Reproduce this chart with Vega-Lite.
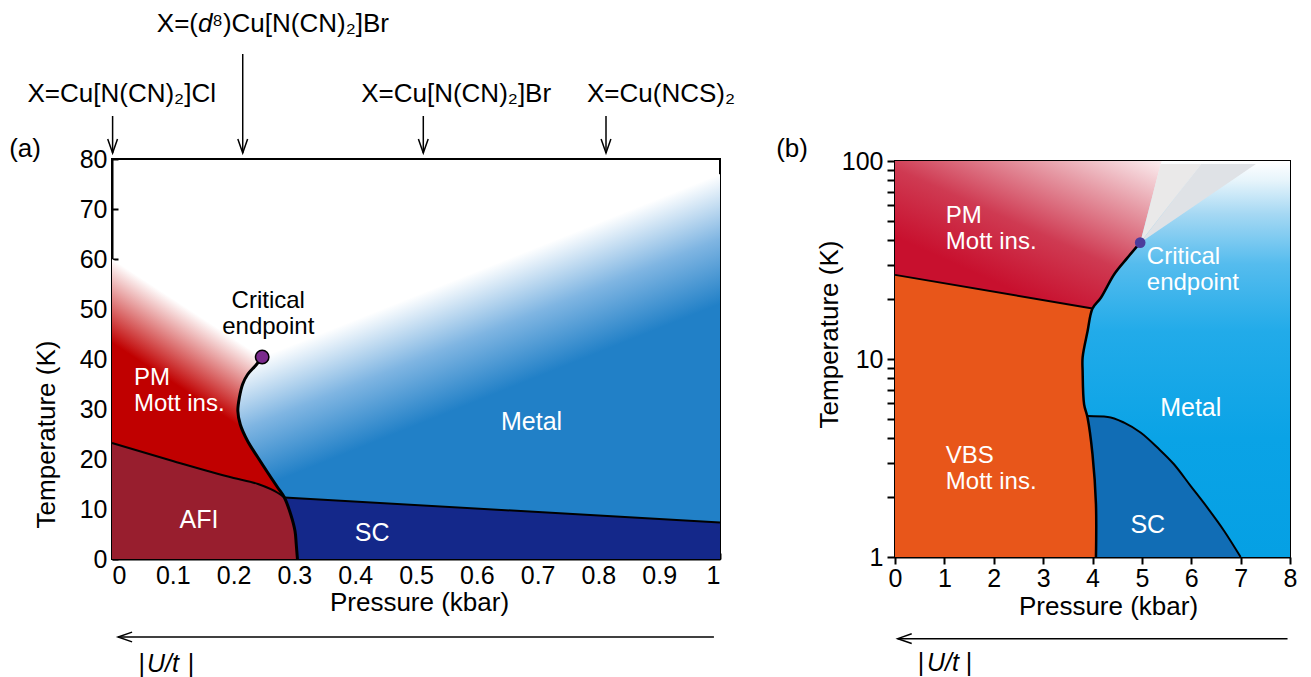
{
  "$schema": "https://vega.github.io/schema/vega-lite/v6.json",
  "padding": {"left": 8, "top": 10, "right": 5, "bottom": 2},
  "config": {
    "font": "Liberation Sans",
    "view": {"stroke": "black", "strokeWidth": 2},
    "axis": {
      "grid": false, "domainColor": "black", "domainWidth": 2,
      "tickColor": "black", "tickWidth": 2,
      "labelColor": "black", "titleColor": "black",
      "labelFontSize": 25, "titleFontSize": 26, "titleFontWeight": "normal",
      "labelOverlap": false
    }
  },
  "datasets": {
    "pm_a": [
      {"P": 0.305, "T": 0}, {"P": 0.303, "T": 3}, {"P": 0.301, "T": 5.6}, {"P": 0.294, "T": 8.9},
      {"P": 0.2835, "T": 12.3}, {"P": 0.2725, "T": 14.3}, {"P": 0.256, "T": 17.3}, {"P": 0.240, "T": 20.3},
      {"P": 0.223, "T": 23.6}, {"P": 0.211, "T": 26.9}, {"P": 0.207, "T": 29.6}, {"P": 0.2095, "T": 32.3},
      {"P": 0.215, "T": 35}, {"P": 0.223, "T": 36.9}, {"P": 0.237, "T": 38.8}, {"P": 0.247, "T": 40.4},
      {"P": 0, "T": 60}
    ],
    "metal_a": [
      {"P": 0.305, "T": 0}, {"P": 0.303, "T": 3}, {"P": 0.301, "T": 5.6}, {"P": 0.294, "T": 8.9},
      {"P": 0.2835, "T": 12.3}, {"P": 0.2725, "T": 14.3}, {"P": 0.256, "T": 17.3}, {"P": 0.240, "T": 20.3},
      {"P": 0.223, "T": 23.6}, {"P": 0.211, "T": 26.9}, {"P": 0.207, "T": 29.6}, {"P": 0.2095, "T": 32.3},
      {"P": 0.215, "T": 35}, {"P": 0.223, "T": 36.9}, {"P": 0.237, "T": 38.8}, {"P": 0.247, "T": 40.4},
      {"P": 1, "T": 77}
    ],
    "first_order_a": [
      {"P": 0.305, "T": 0}, {"P": 0.303, "T": 3}, {"P": 0.301, "T": 5.6}, {"P": 0.294, "T": 8.9},
      {"P": 0.2835, "T": 12.3}, {"P": 0.2725, "T": 14.3}, {"P": 0.256, "T": 17.3}, {"P": 0.240, "T": 20.3},
      {"P": 0.223, "T": 23.6}, {"P": 0.211, "T": 26.9}, {"P": 0.207, "T": 29.6}, {"P": 0.2095, "T": 32.3},
      {"P": 0.215, "T": 35}, {"P": 0.223, "T": 36.9}, {"P": 0.237, "T": 38.8}, {"P": 0.247, "T": 40.4}
    ],
    "afi_a": [
      {"P": 0.305, "T": 0}, {"P": 0.303, "T": 3}, {"P": 0.301, "T": 5.6}, {"P": 0.294, "T": 8.9},
      {"P": 0.2835, "T": 12.3}, {"P": 0.273, "T": 13.2}, {"P": 0.24, "T": 15},
      {"P": 0.2, "T": 16.2}, {"P": 0.1, "T": 19.6}, {"P": 0, "T": 23.2}
    ],
    "afi_line_a": [
      {"P": 0, "T": 23.2}, {"P": 0.1, "T": 19.6}, {"P": 0.2, "T": 16.2},
      {"P": 0.24, "T": 15}, {"P": 0.273, "T": 13.2}, {"P": 0.2835, "T": 12.3}
    ],
    "sc_a": [{"P": 0.2835, "T": 12.3}, {"P": 1, "T": 7.3}],
    "endpoint_a": [{"P": 0.247, "T": 40.4}],
    "arrows_a": [
      {"P": 0.001, "T": 88.6, "T2": 81.2},
      {"P": 0.215, "T": 101, "T2": 81.2},
      {"P": 0.512, "T": 88.6, "T2": 81.2},
      {"P": 0.8125, "T": 88.6, "T2": 81.2}
    ],
    "compounds_a": [
      {"P": 0.016, "T": 93, "label": "X=Cu[N(CN)₂]Cl"},
      {"P": 0.566, "T": 93, "label": "X=Cu[N(CN)₂]Br"},
      {"P": 0.903, "T": 93, "label": "X=Cu(NCS)₂"},
      {"P": -0.143, "T": 82, "label": "(a)"}
    ],
    "metal_b": [{"P": 0, "T": 1}],
    "pm_b": [
      {"P": 4.0, "T": 18.0}, {"P": 4.17, "T": 20.4}, {"P": 4.44, "T": 26.8},
      {"P": 4.71, "T": 32.5}, {"P": 4.966, "T": 38.7}, {"P": 5.40, "T": 100}
    ],
    "wedge_b": [
      {"P": 4.966, "P2": 4.966, "T": 38.7, "part": "warm"},
      {"P": 5.38, "P2": 6.2, "T": 96.6, "part": "warm"},
      {"P": 4.966, "P2": 4.966, "T": 38.7, "part": "cool"},
      {"P": 6.2, "P2": 7.31, "T": 96.6, "part": "cool"}
    ],
    "sc_b": [
      {"P": 3.9, "T": 5.15}, {"P": 4.31, "T": 5.1}, {"P": 4.64, "T": 4.77}, {"P": 4.98, "T": 4.24},
      {"P": 5.32, "T": 3.56}, {"P": 5.65, "T": 2.94}, {"P": 5.99, "T": 2.28}, {"P": 6.33, "T": 1.77},
      {"P": 6.67, "T": 1.35}, {"P": 7.0, "T": 1.0}
    ],
    "vbs_b": [
      {"P": 4.07, "T": 1}, {"P": 4.07, "T": 1.85}, {"P": 4.0, "T": 3.3}, {"P": 3.9, "T": 5.05},
      {"P": 3.83, "T": 5.9}, {"P": 3.80, "T": 8.7}, {"P": 3.80, "T": 10.2}, {"P": 3.9, "T": 13.8},
      {"P": 4.0, "T": 18.0}, {"P": 0, "T": 26.6}
    ],
    "vbs_line_b": [{"P": 0, "T": 26.6}, {"P": 4.0, "T": 18.0}],
    "first_order_b": [
      {"P": 4.07, "T": 1}, {"P": 4.07, "T": 1.85}, {"P": 4.0, "T": 3.3}, {"P": 3.9, "T": 5.05},
      {"P": 3.83, "T": 5.9}, {"P": 3.80, "T": 8.7}, {"P": 3.80, "T": 10.2}, {"P": 3.9, "T": 13.8},
      {"P": 4.0, "T": 18.0}, {"P": 4.17, "T": 20.4}, {"P": 4.44, "T": 26.8}, {"P": 4.71, "T": 32.5},
      {"P": 4.966, "T": 38.7}
    ],
    "endpoint_b": [{"P": 4.966, "T": 38.7}]
  },
  "hconcat": [
    {
      "width": 608,
      "height": 400,
      "encoding": {
        "x": {
          "field": "P", "type": "quantitative",
          "scale": {"domain": [0, 1], "nice": false, "zero": false},
          "axis": {
            "title": "Pressure (kbar)",
            "values": [0, 0.1, 0.2, 0.3, 0.4, 0.5, 0.6, 0.7, 0.8, 0.9, 1],
            "format": "~g", "tickSize": -6, "labelPadding": 10, "labelFlush": true,
            "titleX": 307, "titleY": 51, "titleBaseline": "alphabetic", "titleAlign": "center"
          }
        },
        "y": {
          "field": "T", "type": "quantitative",
          "scale": {"domain": [0, 80], "nice": false, "zero": false},
          "axis": {
            "title": "Temperature (K)",
            "values": [0, 10, 20, 30, 40, 50, 60, 70, 80],
            "tickSize": -6, "labelPadding": 11,
            "titleX": -58, "titleY": 275, "titleBaseline": "alphabetic", "titleAlign": "center", "titleAngle": 270
          }
        }
      },
      "layer": [
        {
          "data": {"name": "pm_a"},
          "mark": {
            "type": "area", "orient": "horizontal",
            "color": {"gradient": "linear", "x1": 0, "y1": 0, "x2": -0.097, "y2": 0.24,
              "stops": [{"offset": 0, "color": "#ffffff"}, {"offset": 1, "color": "#c00000"}]}
          },
          "encoding": {"x2": {"datum": 0}}
        },
        {
          "data": {"name": "metal_a"},
          "mark": {
            "type": "area", "orient": "horizontal",
            "color": {"gradient": "linear", "x1": 0.05, "y1": 0.475, "x2": 0.185, "y2": 0.745,
              "stops": [{"offset": 0, "color": "#ffffff"}, {"offset": 0.5, "color": "#7fb5e2"}, {"offset": 1, "color": "#2180c7"}]}
          },
          "encoding": {"x2": {"datum": 1}}
        },
        {
          "data": {"name": "sc_a"},
          "mark": {"type": "area", "orient": "vertical", "color": "#14288a"},
          "encoding": {"y2": {"datum": 0}}
        },
        {
          "data": {"name": "afi_a"},
          "mark": {"type": "area", "orient": "horizontal", "color": "#981e2e"},
          "encoding": {"x2": {"datum": 0}}
        },
        {
          "data": {"name": "afi_line_a"},
          "mark": {"type": "line", "color": "black", "strokeWidth": 2, "interpolate": "monotone"},
          "encoding": {}
        },
        {
          "data": {"name": "sc_a"},
          "mark": {"type": "line", "color": "black", "strokeWidth": 2},
          "encoding": {}
        },
        {
          "data": {"name": "first_order_a"},
          "mark": {"type": "line", "color": "black", "strokeWidth": 3, "interpolate": "catmull-rom"},
          "encoding": {"order": {"field": "T", "type": "quantitative"}}
        },
        {
          "data": {"name": "endpoint_a"},
          "mark": {"type": "point", "shape": "circle", "filled": true, "fill": "#7a2a8c", "stroke": "black", "strokeWidth": 1.5, "size": 180, "opacity": 1},
          "encoding": {}
        },
        {
          "data": {"values": [
            {"P": 0.036, "T": 36.3, "label": ["PM", "Mott ins."]}
          ]},
          "mark": {"type": "text", "align": "left", "baseline": "middle", "fontSize": 24, "lineHeight": 26, "color": "white"},
          "encoding": {"text": {"field": "label"}}
        },
        {
          "data": {"values": [
            {"P": 0.143, "T": 7.8, "label": "AFI"},
            {"P": 0.428, "T": 5.2, "label": "SC"},
            {"P": 0.69, "T": 27.4, "label": "Metal"}
          ]},
          "mark": {"type": "text", "align": "center", "baseline": "middle", "fontSize": 25, "color": "white"},
          "encoding": {"text": {"field": "label"}}
        },
        {
          "data": {"values": [
            {"P": 0.257, "T": 51.7, "label": ["Critical", "endpoint"]}
          ]},
          "mark": {"type": "text", "align": "center", "baseline": "middle", "fontSize": 24, "lineHeight": 26, "color": "black"},
          "encoding": {"text": {"field": "label"}}
        },
        {
          "data": {"name": "compounds_a"},
          "mark": {"type": "text", "align": "center", "baseline": "middle", "fontSize": 26, "color": "black"},
          "encoding": {"text": {"field": "label"}}
        },
        {
          "data": {"values": [{"P": 0.1414, "T": 107, "label": "X=("}]},
          "mark": {"type": "text", "align": "right", "baseline": "middle", "fontSize": 26, "color": "black"},
          "encoding": {"text": {"field": "label"}}
        },
        {
          "data": {"values": [{"P": 0.1414, "T": 107, "label": "d"}]},
          "mark": {"type": "text", "align": "left", "baseline": "middle", "fontSize": 26, "fontStyle": "italic", "color": "black"},
          "encoding": {"text": {"field": "label"}}
        },
        {
          "data": {"values": [{"P": 0.1414, "T": 107, "label": "⁸)Cu[N(CN)₂]Br"}]},
          "mark": {"type": "text", "align": "left", "baseline": "middle", "fontSize": 26, "dx": 14, "color": "black"},
          "encoding": {"text": {"field": "label"}}
        },
        {
          "data": {"name": "arrows_a"},
          "mark": {"type": "rule", "color": "black", "strokeWidth": 1.5},
          "encoding": {"y2": {"field": "T2"}}
        },
        {
          "data": {"name": "arrows_a"},
          "mark": {"type": "point", "shape": "M-0.7,-2L0,0L0.7,-2", "size": 196, "filled": false, "stroke": "black", "strokeWidth": 1.5, "opacity": 1},
          "encoding": {"y": {"field": "T2", "type": "quantitative"}}
        },
        {
          "data": {"values": [{"P": 0.01, "P2": 0.99, "T": -15.6}]},
          "mark": {"type": "rule", "color": "black", "strokeWidth": 1.5},
          "encoding": {"x2": {"field": "P2"}}
        },
        {
          "data": {"values": [{"P": 0.01, "T": -15.6}]},
          "mark": {"type": "point", "shape": "M2,-0.7L0,0L2,0.7", "size": 196, "filled": false, "stroke": "black", "strokeWidth": 1.5, "opacity": 1},
          "encoding": {}
        },
        {
          "data": {"values": [{"P": 0.049, "T": -21, "label": "|"}, {"P": 0.130, "T": -21, "label": "|"}]},
          "mark": {"type": "text", "align": "center", "baseline": "middle", "fontSize": 25, "color": "black"},
          "encoding": {"text": {"field": "label"}}
        },
        {
          "data": {"values": [{"P": 0.0576, "T": -21, "label": "U/t"}]},
          "mark": {"type": "text", "align": "left", "baseline": "middle", "fontSize": 25, "fontStyle": "italic", "color": "black"},
          "encoding": {"text": {"field": "label"}}
        }
      ]
    },
    {
      "width": 395,
      "height": 396,
      "encoding": {
        "x": {
          "field": "P", "type": "quantitative",
          "scale": {"domain": [0, 8], "nice": false, "zero": false},
          "axis": {
            "title": "Pressure (kbar)",
            "values": [0, 1, 2, 3, 4, 5, 6, 7, 8],
            "tickSize": 7, "labelPadding": 2, "labelFlush": false,
            "titleX": 213, "titleY": 57, "titleBaseline": "alphabetic", "titleAlign": "center"
          }
        },
        "y": {
          "field": "T", "type": "quantitative",
          "scale": {"type": "log", "domain": [1, 100], "nice": false},
          "axis": {
            "title": "Temperature (K)",
            "values": [1, 2, 3, 4, 5, 6, 7, 8, 9, 10, 20, 30, 40, 50, 60, 70, 80, 90, 100],
            "format": "d",
            "labelExpr": "datum.value == 1 || datum.value == 10 || datum.value == 100 ? datum.label : ''",
            "tickSize": 8, "labelPadding": 4,
            "titleX": -58, "titleY": 173, "titleBaseline": "alphabetic", "titleAlign": "center", "titleAngle": 270
          }
        }
      },
      "layer": [
        {
          "data": {"name": "metal_b"},
          "mark": {
            "type": "rect",
            "color": {"gradient": "linear", "x1": 0, "y1": 0, "x2": 0, "y2": 1,
              "stops": [
                {"offset": 0, "color": "#ffffff"},
                {"offset": 0.05, "color": "#e6f4fb"},
                {"offset": 0.134, "color": "#a5d8f3"},
                {"offset": 0.26, "color": "#55bcee"},
                {"offset": 0.43, "color": "#22abe9"},
                {"offset": 0.7, "color": "#0aa3e6"},
                {"offset": 1, "color": "#05a0e4"}
              ]}
          },
          "encoding": {"x2": {"datum": 8}, "y2": {"datum": 100}}
        },
        {
          "data": {"name": "pm_b"},
          "mark": {
            "type": "area", "orient": "horizontal",
            "color": {"gradient": "linear", "x1": 0.35, "y1": 0.8, "x2": 1, "y2": 0,
              "stops": [
                {"offset": 0, "color": "#c8102e"},
                {"offset": 0.35, "color": "#cf3a52"},
                {"offset": 0.7, "color": "#e69aa5"},
                {"offset": 1, "color": "#fbeef0"}
              ]}
          },
          "encoding": {"x2": {"datum": 0}}
        },
        {
          "data": {"name": "wedge_b"},
          "mark": {"type": "area", "orient": "horizontal"},
          "encoding": {
            "x2": {"field": "P2"},
            "detail": {"field": "part"},
            "color": {"field": "part", "type": "nominal", "scale": {"domain": ["warm", "cool"], "range": ["#eae9e9", "#dfe2e6"]}, "legend": null}
          }
        },
        {
          "data": {"name": "sc_b"},
          "mark": {"type": "area", "orient": "vertical", "color": "#116db5", "interpolate": "monotone"},
          "encoding": {"y2": {"datum": 1}}
        },
        {
          "data": {"name": "vbs_b"},
          "mark": {"type": "area", "orient": "horizontal", "color": "#e8561a"},
          "encoding": {"x2": {"datum": 0}}
        },
        {
          "data": {"name": "vbs_line_b"},
          "mark": {"type": "line", "color": "black", "strokeWidth": 2},
          "encoding": {}
        },
        {
          "data": {"name": "sc_b"},
          "mark": {"type": "line", "color": "black", "strokeWidth": 2, "interpolate": "monotone"},
          "encoding": {}
        },
        {
          "data": {"name": "first_order_b"},
          "mark": {"type": "line", "color": "black", "strokeWidth": 2.5, "interpolate": "catmull-rom"},
          "encoding": {"order": {"field": "T", "type": "quantitative"}}
        },
        {
          "data": {"name": "endpoint_b"},
          "mark": {"type": "point", "shape": "circle", "filled": true, "fill": "#4b3c9c", "strokeWidth": 0, "size": 113, "opacity": 1},
          "encoding": {}
        },
        {
          "data": {"values": [
            {"P": 1.03, "T": 53.0, "label": ["PM", "Mott ins."]},
            {"P": 5.10, "T": 32.9, "label": ["Critical", "endpoint"]},
            {"P": 1.03, "T": 3.22, "label": ["VBS", "Mott ins."]}
          ]},
          "mark": {"type": "text", "align": "left", "baseline": "middle", "fontSize": 24, "lineHeight": 26, "color": "white"},
          "encoding": {"text": {"field": "label"}}
        },
        {
          "data": {"values": [
            {"P": 5.99, "T": 5.66, "label": "Metal"},
            {"P": 5.12, "T": 1.45, "label": "SC"}
          ]},
          "mark": {"type": "text", "align": "center", "baseline": "middle", "fontSize": 25, "color": "white"},
          "encoding": {"text": {"field": "label"}}
        },
        {
          "data": {"values": [{"P": -2.085, "T": 115, "label": "(b)"}]},
          "mark": {"type": "text", "align": "center", "baseline": "middle", "fontSize": 26, "color": "black"},
          "encoding": {"text": {"field": "label"}}
        },
        {
          "data": {"values": [{"P": 0.055, "P2": 7.95, "T": 0.387}]},
          "mark": {"type": "rule", "color": "black", "strokeWidth": 1.5},
          "encoding": {"x2": {"field": "P2"}}
        },
        {
          "data": {"values": [{"P": 0.055, "T": 0.387}]},
          "mark": {"type": "point", "shape": "M2,-0.7L0,0L2,0.7", "size": 196, "filled": false, "stroke": "black", "strokeWidth": 1.5, "opacity": 1},
          "encoding": {}
        },
        {
          "data": {"values": [{"P": 0.526, "T": 0.292, "label": "|"}, {"P": 1.498, "T": 0.292, "label": "|"}]},
          "mark": {"type": "text", "align": "center", "baseline": "middle", "fontSize": 25, "color": "black"},
          "encoding": {"text": {"field": "label"}}
        },
        {
          "data": {"values": [{"P": 0.648, "T": 0.292, "label": "U/t"}]},
          "mark": {"type": "text", "align": "left", "baseline": "middle", "fontSize": 25, "fontStyle": "italic", "color": "black"},
          "encoding": {"text": {"field": "label"}}
        }
      ]
    }
  ],
  "spacing": 175,
  "bounds": "flush",
  "center": true
}
